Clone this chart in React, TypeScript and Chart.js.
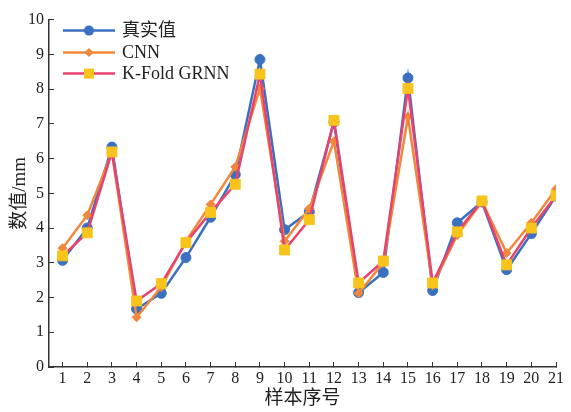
import React, { useEffect, useRef } from 'react';
import { Chart, registerables } from 'chart.js';

Chart.register(...registerables);

const sampleIndex = [1, 2, 3, 4, 5, 6, 7, 8, 9, 10, 11, 12, 13, 14, 15, 16, 17, 18, 19, 20, 21];
const yTickValues = [0, 1, 2, 3, 4, 5, 6, 7, 8, 9, 10];
const seriesNames = ['真实值', 'CNN', 'K-Fold GRNN'];
const realValues = [3.07, 4.0, 6.33, 1.67, 2.12, 3.15, 4.31, 5.54, 8.85, 3.95, 4.47, 7.05, 2.14, 2.72, 8.32, 2.2, 4.15, 4.75, 2.8, 3.84, 4.92];
const cnnValues = [3.42, 4.37, 6.17, 1.43, 2.3, 3.62, 4.68, 5.76, 8.02, 3.62, 4.56, 6.5, 2.12, 3.0, 7.2, 2.35, 3.8, 4.76, 3.28, 4.15, 5.12];
const grnnValues = [3.2, 3.86, 6.19, 1.9, 2.4, 3.58, 4.45, 5.26, 8.43, 3.37, 4.24, 7.1, 2.42, 3.05, 8.02, 2.42, 3.89, 4.78, 2.94, 4.0, 4.93];

const SERIF = "'Liberation Serif', 'Noto Sans CJK SC', serif";
const TEXT = '#222222';
const AXIS = '#333333';
const BLUE = '#3a70c0';
const ORANGE = '#f0883c';
const RED = '#e8436f';
const YELLOW = '#f8c41c';

const legendPlugin = {
  id: 'lineMarkerLegend',
  afterDraw(chart: any) {
    const ctx = chart.ctx;
    const area = chart.chartArea;
    const x0 = area.left + 14;
    const x1 = x0 + 52;
    const xm = (x0 + x1) / 2;
    const rows = [area.top + 11, area.top + 33, area.top + 54];
    const styles = [
      { line: BLUE, fill: BLUE, shape: 'circle', r: 5 },
      { line: ORANGE, fill: ORANGE, shape: 'diamond', r: 4.5 },
      { line: RED, fill: YELLOW, shape: 'square', r: 5 },
    ];
    ctx.save();
    styles.forEach((s, i) => {
      const y = rows[i];
      ctx.strokeStyle = s.line;
      ctx.lineWidth = 2.5;
      ctx.beginPath();
      ctx.moveTo(x0, y);
      ctx.lineTo(x1, y);
      ctx.stroke();
      ctx.fillStyle = s.fill;
      ctx.beginPath();
      if (s.shape === 'circle') {
        ctx.arc(xm, y, s.r, 0, Math.PI * 2);
      } else if (s.shape === 'diamond') {
        ctx.moveTo(xm, y - s.r);
        ctx.lineTo(xm + s.r, y);
        ctx.lineTo(xm, y + s.r);
        ctx.lineTo(xm - s.r, y);
        ctx.closePath();
      } else {
        ctx.rect(xm - s.r, y - s.r, s.r * 2, s.r * 2);
      }
      ctx.fill();
      ctx.fillStyle = TEXT;
      ctx.font = `18px ${SERIF}`;
      ctx.textBaseline = 'middle';
      ctx.textAlign = 'left';
      ctx.fillText(seriesNames[i], x1 + 7, y + 1);
    });
    ctx.restore();
  },
};

function toPoints(values: number[]) {
  return values.map((v, i) => ({ x: sampleIndex[i], y: v }));
}

export default function App() {
  const ref = useRef<HTMLCanvasElement | null>(null);

  useEffect(() => {
    document.body.style.margin = '0';
    if (!ref.current) return;
    const chart = new Chart(ref.current, {
      type: 'line',
      data: {
        datasets: [
          {
            label: seriesNames[0],
            data: toPoints(realValues),
            borderColor: BLUE,
            backgroundColor: BLUE,
            pointBackgroundColor: BLUE,
            pointBorderColor: BLUE,
            pointStyle: 'circle',
            pointRadius: 5,
            pointBorderWidth: 1,
            borderWidth: 2.5,
            tension: 0,
            order: 3,
          },
          {
            label: seriesNames[1],
            data: toPoints(cnnValues),
            borderColor: ORANGE,
            backgroundColor: ORANGE,
            pointBackgroundColor: ORANGE,
            pointBorderColor: ORANGE,
            pointStyle: 'rectRot',
            pointRadius: 4.5,
            pointBorderWidth: 1,
            borderWidth: 2.5,
            tension: 0,
            order: 2,
          },
          {
            label: seriesNames[2],
            data: toPoints(grnnValues),
            borderColor: RED,
            backgroundColor: YELLOW,
            pointBackgroundColor: YELLOW,
            pointBorderColor: YELLOW,
            pointStyle: 'rect',
            pointRadius: 7,
            pointBorderWidth: 1,
            borderWidth: 2.5,
            tension: 0,
            order: 1,
          },
        ],
      },
      options: {
        responsive: false,
        animation: false,
        layout: { padding: { top: 15, right: 9, left: 0, bottom: 0 } },
        plugins: {
          legend: { display: false },
          tooltip: { enabled: false },
        },
        scales: {
          x: {
            type: 'linear',
            min: 0.45,
            max: 21,
            afterBuildTicks: (s: any) => {
              s.ticks = sampleIndex.map((v) => ({ value: v }));
            },
            afterFit: (s: any) => {
              s.height = 45;
            },
            ticks: {
              autoSkip: false,
              maxRotation: 0,
              padding: 7,
              color: TEXT,
              font: { family: SERIF, size: 16 },
              callback: (v: any) => String(v),
            },
            grid: {
              display: true,
              drawOnChartArea: false,
              drawTicks: true,
              tickLength: -5,
              color: AXIS,
              lineWidth: 1,
            },
            border: { display: true, color: AXIS, width: 1.5 },
            title: {
              display: true,
              text: '样本序号',
              color: TEXT,
              font: { family: SERIF, size: 19 },
              padding: { top: 0, bottom: 2 },
            },
          },
          y: {
            type: 'linear',
            min: 0,
            max: 10,
            afterBuildTicks: (s: any) => {
              s.ticks = yTickValues.map((v) => ({ value: v }));
            },
            afterFit: (s: any) => {
              s.width = 49;
            },
            ticks: {
              padding: 10,
              color: TEXT,
              font: { family: SERIF, size: 16 },
              callback: (v: any) => String(v),
            },
            grid: {
              display: true,
              drawOnChartArea: false,
              drawTicks: true,
              tickLength: -5,
              color: AXIS,
              lineWidth: 1,
            },
            border: { display: true, color: AXIS, width: 1.5 },
            title: {
              display: true,
              text: '数值/mm',
              color: TEXT,
              font: { family: SERIF, size: 19 },
              padding: { top: 9, bottom: 0 },
            },
          },
        },
      },
      plugins: [legendPlugin],
    } as any);
    return () => chart.destroy();
  }, []);

  return (
    <div style={{ width: 571, height: 412 }}>
      <canvas ref={ref} width={571} height={412} style={{ width: 571, height: 412, display: 'block' }} />
    </div>
  );
}
